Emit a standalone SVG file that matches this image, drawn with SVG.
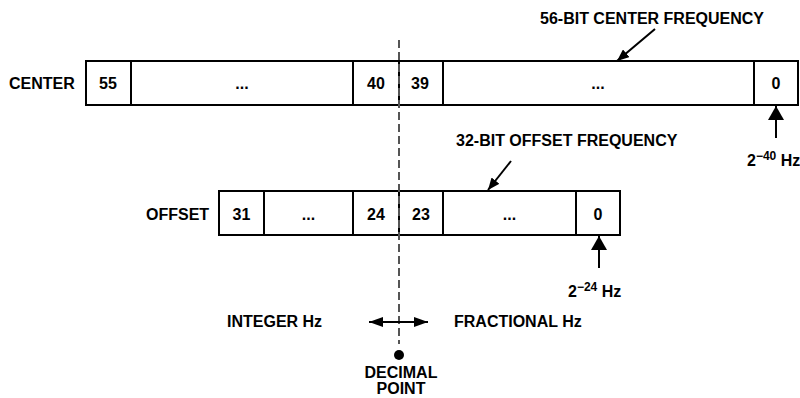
<svg xmlns="http://www.w3.org/2000/svg" width="800" height="398" viewBox="0 0 800 398">
<style>
  text { font-family: "Liberation Sans", Arial, sans-serif; font-weight: bold; fill: #000; }
  .lbl { font-size: 16px; }
  .cell { font-size: 16px; text-anchor: middle; }
  .sup { font-size: 12px; }
  .box { fill: #fff; stroke: #000; stroke-width: 2; }
  .div { stroke: #000; stroke-width: 2; }
  .conn { stroke: #000; stroke-width: 2; fill: none; }
</style>
<defs>
  <marker id="ah" viewBox="0 0 12 10" refX="12" refY="5" markerWidth="12" markerHeight="10" markerUnits="userSpaceOnUse" orient="auto">
    <path d="M0,0 L12,5 L0,10 Z" fill="#000"/>
  </marker>
  <marker id="ahs" viewBox="0 0 14 10" refX="14" refY="5" markerWidth="14" markerHeight="10" markerUnits="userSpaceOnUse" orient="auto-start-reverse">
    <path d="M0,0 L14,5 L0,10 Z" fill="#000"/>
  </marker>
  <marker id="ahu" viewBox="0 0 14 16" refX="14" refY="8" markerWidth="14" markerHeight="16" markerUnits="userSpaceOnUse" orient="auto">
    <path d="M0,0 L14,8 L0,16 Z" fill="#000"/>
  </marker>
</defs>

<g id="center">
  <text class="lbl" x="9" y="89">CENTER</text>
  <rect class="box" x="86" y="61" width="712" height="44"/>
  <line class="div" x1="131" y1="61" x2="131" y2="105"/>
  <line class="div" x1="353" y1="61" x2="353" y2="105"/>
  <line class="div" x1="399" y1="61" x2="399" y2="105"/>
  <line class="div" x1="443" y1="61" x2="443" y2="105"/>
  <line class="div" x1="754" y1="61" x2="754" y2="105"/>
  <text class="cell" x="108" y="89">55</text>
  <text class="cell" x="242" y="89">...</text>
  <text class="cell" x="376" y="89">40</text>
  <text class="cell" x="420" y="89">39</text>
  <text class="cell" x="598" y="89">...</text>
  <text class="cell" x="776" y="89">0</text>
</g>

<g id="offset">
  <text class="lbl" x="146" y="220">OFFSET</text>
  <rect class="box" x="219" y="191" width="401" height="44"/>
  <line class="div" x1="264" y1="191" x2="264" y2="235"/>
  <line class="div" x1="353" y1="191" x2="353" y2="235"/>
  <line class="div" x1="399" y1="191" x2="399" y2="235"/>
  <line class="div" x1="443" y1="191" x2="443" y2="235"/>
  <line class="div" x1="576" y1="191" x2="576" y2="235"/>
  <text class="cell" x="241.5" y="220">31</text>
  <text class="cell" x="308.5" y="220">...</text>
  <text class="cell" x="376" y="220">24</text>
  <text class="cell" x="421" y="220">23</text>
  <text class="cell" x="509.5" y="220">...</text>
  <text class="cell" x="598" y="220">0</text>
</g>

<g id="label-center">
  <text class="lbl" x="540" y="24">56-BIT CENTER FREQUENCY</text>
</g>
<g id="label-offset">
  <text class="lbl" x="456" y="146">32-BIT OFFSET FREQUENCY</text>
</g>
<g id="lsb-center">
  <text class="lbl" x="747" y="166">2<tspan class="sup" dy="-6">−40</tspan><tspan dy="6"> Hz</tspan></text>
</g>
<g id="lsb-offset">
  <text class="lbl" x="568" y="297">2<tspan class="sup" dy="-6">−24</tspan><tspan dy="6"> Hz</tspan></text>
</g>
<g id="integer">
  <text class="lbl" x="227" y="327">INTEGER Hz</text>
</g>
<g id="fractional">
  <text class="lbl" x="454" y="327">FRACTIONAL Hz</text>
</g>
<g id="decimal-point">
  <circle cx="399" cy="355" r="5" fill="#000"/>
  <text class="lbl" x="401" y="378" text-anchor="middle">DECIMAL</text>
  <text class="lbl" x="401" y="394" text-anchor="middle">POINT</text>
</g>

<g id="connectors">
  <line x1="399" y1="40" x2="399" y2="344" stroke="#555" stroke-width="2" stroke-dasharray="8 4"/>
  <line class="conn" x1="655" y1="29" x2="617" y2="61" marker-end="url(#ah)"/>
  <line class="conn" x1="511" y1="161" x2="488" y2="190" marker-end="url(#ah)"/>
  <line class="conn" x1="776" y1="138" x2="776" y2="106" marker-end="url(#ahu)"/>
  <line class="conn" x1="599" y1="268" x2="599" y2="236" marker-end="url(#ahu)"/>
  <line class="conn" x1="369" y1="322" x2="428" y2="322" marker-start="url(#ahs)" marker-end="url(#ahs)"/>
</g>
</svg>
